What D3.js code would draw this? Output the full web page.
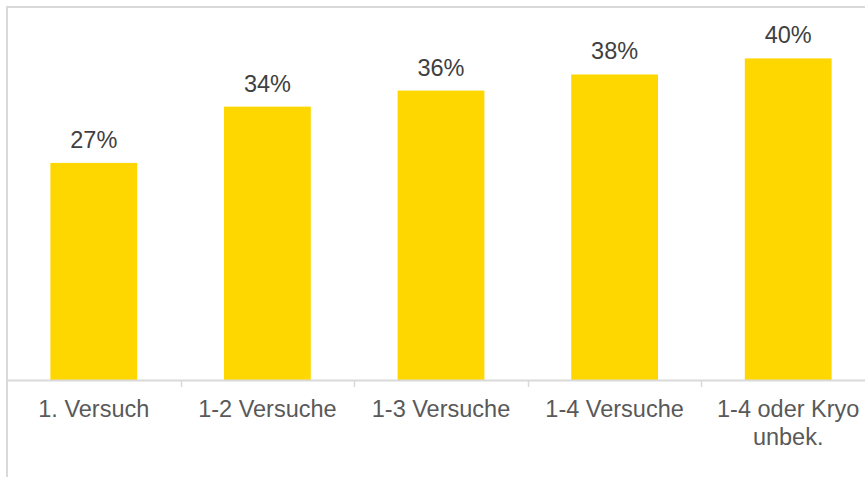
<!DOCTYPE html>
<html>
<head>
<meta charset="utf-8">
<script src="https://cdn.jsdelivr.net/npm/d3@7"></script>
<style>
  body { margin: 0; background: #fff; }
  svg text { font-family: "Liberation Sans", Arial, sans-serif; }
</style>
</head>
<body>
<div id="chart"></div>
<script>
(function() {"use strict";

    // 차트 데이타
    var categories = ["1. Versuch", "1-2 Versuche", "1-3 Versuche", "1-4 Versuche", "1-4 oder Kryo\nunbek."];
    var values     = [0.27, 0.34, 0.36, 0.38, 0.40];
    var valueLabels = ["27%", "34%", "36%", "38%", "40%"];

    var
        width   = 865,
        height  = 477,
        left    = 7,
        top     = 7,
        bottom  = 380,
        bandW   = 173.6,
        svg     = d3.select("#chart").append("svg")
            .attr("width", width)
            .attr("height", height);

    // Scales
    var xAxis = d3.scaleBand()
        .domain(categories)
        .range([left, left + bandW * categories.length])
        .paddingInner(0.5)
        .paddingOuter(0.25);
    var yAxis = d3.scaleLinear()
        .domain([0, 0.45])
        .range([bottom, bottom - 0.45 * 804]);

    // frame
    svg.append("path")
        .attr("d", "M" + left + "," + height + "V" + top + "H" + width)
        .attr("fill", "none")
        .attr("stroke", "#d9d9d9")
        .attr("stroke-width", 2);

    // bars
    svg.selectAll("rect.bar").data(values).enter()
        .append("rect")
        .attr("class", "bar")
        .attr("x", function(d, i){ return xAxis(categories[i]); })
        .attr("y", function(d){ return yAxis(d); })
        .attr("width", xAxis.bandwidth())
        .attr("height", function(d){ return yAxis(0) - yAxis(d); })
        .attr("fill", "#ffd700");

    // value labels
    svg.selectAll("text.val").data(values).enter()
        .append("text")
        .attr("class", "val")
        .attr("x", function(d, i){ return xAxis(categories[i]) + xAxis.bandwidth() / 2; })
        .attr("y", function(d){ return yAxis(d) - 15; })
        .attr("text-anchor", "middle")
        .attr("font-size", 23.5)
        .attr("fill", "#404040")
        .text(function(d, i){ return valueLabels[i]; });

    // x axis line + ticks
    svg.append("line")
        .attr("x1", left).attr("x2", width)
        .attr("y1", bottom + 0.5).attr("y2", bottom + 0.5)
        .attr("stroke", "#d9d9d9")
        .attr("stroke-width", 2);

    var step = xAxis.step();
    for (var i = 1; i < categories.length; i++) {
        var tx = Math.round(left + step * i) + 0.5;
        svg.append("line")
            .attr("x1", tx).attr("x2", tx)
            .attr("y1", bottom).attr("y2", bottom + 7)
            .attr("stroke", "#d9d9d9")
            .attr("stroke-width", 1.5);
    }

    // category labels
    categories.forEach(function(c, i) {
        var cx = xAxis(c) + xAxis.bandwidth() / 2;
        var t = svg.append("text")
            .attr("text-anchor", "middle")
            .attr("font-size", 23.5)
            .attr("fill", "#595959");
        c.split("\n").forEach(function(line, j) {
            t.append("tspan")
                .attr("x", cx)
                .attr("y", 417 + j * 28)
                .text(line);
        });
    });

})();
</script>
</body>
</html>
